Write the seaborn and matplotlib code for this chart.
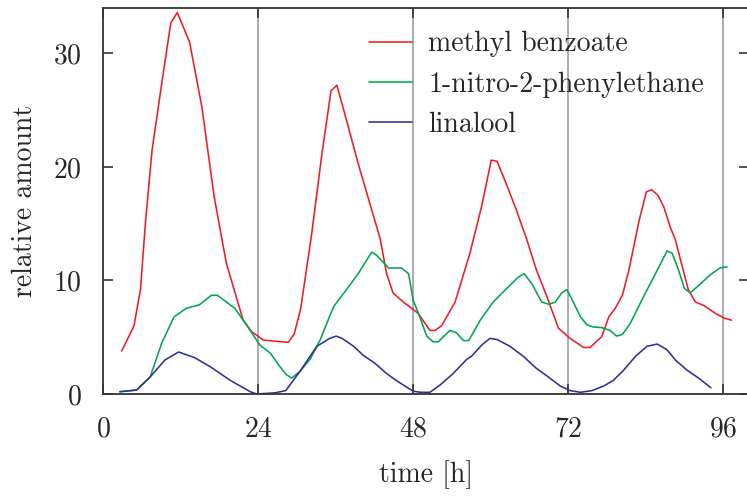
import pandas as pd
import seaborn as sns
import matplotlib.pyplot as plt

# methyl benzoate
t_mb = [2.9, 4.8, 5.8, 6.6, 7.6, 9.1, 10.5, 11.5, 13.4, 15.3, 17.2, 19.1, 21.7, 23.0,
        24.8, 28.7, 29.6, 30.6, 32.3, 33.9, 35.3, 36.2, 37.7, 39.5, 41.3, 42.9, 43.9,
        44.9, 46.5, 48.0, 48.8, 50.6, 51.4, 52.4, 54.5, 56.8, 58.6, 60.1, 61.0, 62.5,
        64.0, 65.6, 67.1, 68.7, 70.5, 72.3, 74.4, 75.4, 77.2, 78.3, 79.3, 80.4, 81.4,
        83.0, 84.1, 84.9, 85.9, 86.8, 87.8, 88.6, 89.4, 90.6, 91.7, 93.0, 94.8, 96.1, 97.3]
mb = [3.8, 6.0, 9.2, 15.3, 21.5, 27.4, 32.7, 33.6, 31.0, 25.3, 17.4, 11.5, 6.5, 5.5,
      4.75, 4.55, 5.3, 7.5, 14.1, 21.2, 26.7, 27.2, 24.1, 20.3, 16.8, 13.7, 10.6,
      8.9, 8.1, 7.45, 7.1, 5.6, 5.6, 6.0, 8.1, 12.4, 16.5, 20.6, 20.5, 18.4,
      16.2, 13.6, 10.9, 8.6, 5.8, 4.9, 4.1, 4.1, 5.05, 6.8, 7.55, 8.7, 10.9,
      15.3, 17.8, 18.0, 17.5, 16.5, 14.7, 13.6, 11.8, 9.2, 8.1, 7.8, 7.1, 6.7, 6.5]

# 1-nitro-2-phenylethane
t_np = [2.6, 5.2, 7.3, 9.1, 11.0, 12.9, 14.9, 16.8, 17.7, 20.4, 22.2, 24.3, 25.9, 27.4,
        28.4, 29.2, 30.5, 32.1, 33.6, 35.7, 37.7, 39.5, 41.6, 42.4, 44.2, 46.2, 47.3,
        48.0, 49.1, 50.1, 51.1, 51.9, 53.7, 54.7, 55.8, 56.6, 58.4, 60.4, 62.5, 64.3,
        65.2, 66.4, 67.9, 69.0, 70.0, 71.0, 71.8, 72.8, 73.9, 74.9, 75.9, 77.2, 78.5,
        79.5, 80.4, 81.6, 83.7, 85.8, 87.3, 88.1, 89.1, 90.0, 90.9, 92.5, 94.0, 95.5, 96.6]
nphe = [0.2, 0.35, 1.5, 4.5, 6.8, 7.55, 7.85, 8.7, 8.7, 7.55, 6.1, 4.3, 3.6, 2.4,
        1.7, 1.4, 2.0, 3.1, 4.75, 7.7, 9.2, 10.6, 12.5, 12.2, 11.1, 11.1, 10.6,
        8.3, 6.7, 5.1, 4.6, 4.6, 5.6, 5.4, 4.7, 4.7, 6.5, 8.1, 9.3, 10.3,
        10.6, 9.7, 8.1, 7.9, 8.1, 8.9, 9.2, 8.1, 6.8, 6.1, 5.9, 5.85, 5.6,
        5.1, 5.25, 6.2, 8.6, 10.9, 12.6, 12.4, 10.9, 9.3, 8.9, 9.7, 10.5, 11.1, 11.2]

# linalool
t_lin = [2.6, 5.2, 7.3, 9.6, 11.7, 14.2, 16.6, 19.7, 22.8, 23.8, 26.6, 28.3, 30.5, 33.1,
         35.1, 36.1, 37.0, 38.8, 40.3, 42.1, 43.9, 45.5, 48.0, 49.1, 50.6, 52.2, 54.2,
         56.3, 57.1, 58.6, 59.9, 61.0, 63.0, 65.1, 67.1, 68.7, 70.8, 72.3, 73.9, 75.7,
         77.5, 79.0, 80.6, 82.4, 84.2, 85.8, 87.3, 88.6, 90.4, 92.2, 94.1]
lin = [0.2, 0.35, 1.5, 3.0, 3.7, 3.2, 2.4, 1.2, 0.2, 0.0, 0.1, 0.3, 2.0, 4.2,
       4.9, 5.1, 4.9, 4.2, 3.4, 2.7, 1.8, 1.15, 0.25, 0.15, 0.15, 0.8, 1.8,
       3.05, 3.35, 4.3, 4.9, 4.8, 4.2, 3.3, 2.25, 1.6, 0.7, 0.3, 0.15, 0.3,
       0.7, 1.2, 2.1, 3.3, 4.2, 4.4, 3.9, 3.0, 2.1, 1.4, 0.55]

names = ["methyl benzoate", "1-nitro-2-phenylethane", "linalool"]
colors = ["#ee1c25", "#00a651", "#2e3192"]
x_ticks = [0, 24, 48, 72, 96]
y_ticks = [0, 10, 20, 30]

df = pd.concat([
    pd.DataFrame({"time": t_mb, "amount": mb, "compound": names[0]}),
    pd.DataFrame({"time": t_np, "amount": nphe, "compound": names[1]}),
    pd.DataFrame({"time": t_lin, "amount": lin, "compound": names[2]}),
])

sns.set_style("ticks")
plt.rcParams["font.family"] = ["cmr10", "DejaVu Serif"]
plt.rcParams["axes.formatter.use_mathtext"] = True
plt.rcParams["axes.unicode_minus"] = False

fs = 20
fig = plt.figure(figsize=(7.47, 4.96), dpi=100)
ax = fig.add_axes([103 / 747, 1 - 394 / 496, 646 / 747, 386 / 496])

# vertical day lines
for x in x_ticks[1:]:
    ax.axvline(x, color="#a6a6a6", lw=1.3, zorder=0)

sns.lineplot(data=df, x="time", y="amount", hue="compound", palette=colors,
             estimator=None, sort=False, lw=1.15, ax=ax, legend=False)

ax.set_xlim(0, 100)
ax.set_ylim(0, 34)
ax.set_xticks(x_ticks)
ax.set_yticks(y_ticks)
ax.tick_params(direction="in", length=7, width=1.2, color="#333333",
               top=True, right=True, labelsize=fs)
ax.tick_params(axis="x", pad=16)
ax.tick_params(axis="y", pad=15)
for s in ax.spines.values():
    s.set_color("#333333")
    s.set_linewidth(1.3)

ax.set_xlabel("time [h]", fontsize=fs, labelpad=13)
ax.set_ylabel("relative amount", fontsize=fs, labelpad=11)

handles = [plt.Line2D([], [], color=c, lw=1.15) for c in colors]
ax.legend(handles, names, loc="upper left", bbox_to_anchor=(0.412, 0.94), frameon=False,
          fontsize=fs, handlelength=1.55, handletextpad=0.58, labelspacing=0.5,
          borderaxespad=0, borderpad=0)

fig.savefig("out.png", dpi=100)
